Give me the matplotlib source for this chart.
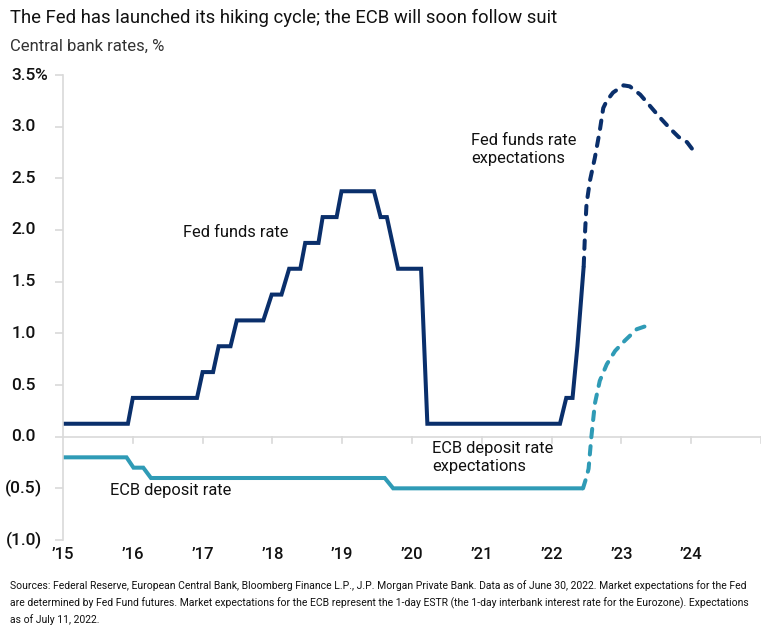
import matplotlib
matplotlib.use("Agg")
import matplotlib.pyplot as plt
from matplotlib import font_manager

# ~~~ data ~~~
years = [2015, 2016, 2017, 2018, 2019, 2020, 2021, 2022, 2023, 2024]
year_labels = ["\u201915", "\u201916", "\u201917", "\u201918", "\u201919",
               "\u201920", "\u201921", "\u201922", "\u201923", "\u201924"]

fed_dates = [2015.0, 2015.93, 2016.0, 2016.92, 2017.0, 2017.15, 2017.23, 2017.40,
             2017.49, 2017.87, 2017.99, 2018.13, 2018.24, 2018.40, 2018.47, 2018.66,
             2018.72, 2018.92, 2018.99, 2019.455, 2019.55, 2019.64, 2019.80, 2020.13,
             2020.22, 2022.12, 2022.21, 2022.30, 2022.37, 2022.46]
fed_vals = [0.125, 0.125, 0.375, 0.375, 0.625, 0.625, 0.875, 0.875,
            1.125, 1.125, 1.375, 1.375, 1.625, 1.625, 1.875, 1.875,
            2.125, 2.125, 2.375, 2.375, 2.125, 2.125, 1.625, 1.625,
            0.125, 0.125, 0.375, 0.375, 0.875, 1.65]

fed_exp_dates = [2022.46, 2022.48, 2022.50, 2022.55, 2022.62, 2022.69, 2022.74, 2022.79,
                 2022.88, 2023.03, 2023.12, 2023.27, 2023.41, 2023.55, 2023.70, 2023.82,
                 2023.94, 2024.03]
fed_exp_vals = [1.65, 1.99, 2.25, 2.48, 2.70, 2.96, 3.18, 3.25,
                3.33, 3.40, 3.39, 3.31, 3.20, 3.09, 2.98, 2.90,
                2.85, 2.77]

ecb_dates = [2015.0, 2015.91, 2016.01, 2016.15, 2016.26, 2019.61, 2019.73, 2022.45]
ecb_vals = [-0.2, -0.2, -0.3, -0.3, -0.4, -0.4, -0.5, -0.5]

ecb_exp_dates = [2022.45, 2022.50, 2022.53, 2022.57, 2022.62, 2022.69, 2022.79,
                 2022.91, 2023.05, 2023.22, 2023.35]
ecb_exp_vals = [-0.5, -0.39, -0.31, 0.0, 0.32, 0.54, 0.70, 0.83, 0.93, 1.04, 1.07]

y_ticks = [3.5, 3.0, 2.5, 2.0, 1.5, 1.0, 0.5, 0.0, -0.5, -1.0]
y_nums = ["3.5", "3.0", "2.5", "2.0", "1.5", "1.0", "0.5", "0.0", "(0.5", "(1.0"]
y_suffix = ["%", "", "", "", "", "", "", "", ")", ")"]

title = "The Fed has launched its hiking cycle; the ECB will soon follow suit"
subtitle = "Central bank rates, %"
footnote = ("Sources: Federal Reserve, European Central Bank, Bloomberg Finance L.P., J.P. Morgan Private Bank. "
            "Data as of June 30, 2022. Market expectations for the Fed\n"
            "are determined by Fed Fund futures. Market expectations for the ECB represent the 1-day ESTR "
            "(the 1-day interbank interest rate for the Eurozone). Expectations\n"
            "as of July 11, 2022.")

# ~~~ style ~~~
names = {f.name for f in font_manager.fontManager.ttflist}
narrow = "Liberation Sans Narrow" if "Liberation Sans Narrow" in names else "Roboto"
plt.rcParams['font.family'] = [narrow, 'DejaVu Sans']

NAVY = "#0a2f6b"
TEAL = "#2f9bb6"
GREY = "#d9d9d9"
TXT = "#111111"
DASH = (0, (2.1, 2.2))

W, H = 770, 629
fig = plt.figure(figsize=(W / 100, H / 100), dpi=100)
ax = fig.add_axes([63 / W, 1 - 540 / H, 698 / W, 465 / H])

ax.plot(fed_dates, fed_vals, color=NAVY, lw=2.9, solid_joinstyle='miter', solid_capstyle='butt')
ax.plot(fed_exp_dates, fed_exp_vals, color=NAVY, lw=2.9, linestyle=DASH, dash_capstyle='round')
ax.plot(ecb_dates, ecb_vals, color=TEAL, lw=2.9, solid_joinstyle='miter', solid_capstyle='butt')
ax.plot(ecb_exp_dates, ecb_exp_vals, color=TEAL, lw=2.9, linestyle=DASH, dash_capstyle='round')

ax.set_xlim(2015, 2025)
ax.set_ylim(-1.0, 3.5)

# zero line with year ticks hanging off it
ax.axhline(0, color=GREY, lw=1.2, zorder=0)
for yr in years[1:] + [2025]:
    ax.plot([yr, yr], [0, -0.06], color=GREY, lw=1.2, zorder=0)

for s in ["top", "right", "bottom"]:
    ax.spines[s].set_visible(False)
ax.spines["left"].set_color(GREY)
ax.spines["left"].set_linewidth(1.2)

ax.set_yticks(y_ticks)
ax.set_yticklabels([])
ax.tick_params(axis='y', length=6, width=1.2, color=GREY)
ax.set_xticks(years)
ax.set_xticklabels(year_labels, fontsize=12, color=TXT, fontweight='medium')
ax.tick_params(axis='x', length=0, pad=5)

# accounting-style y labels: numbers right-aligned, % and ) hang past them
xa = (36 - 63) / 698
tr = ax.get_yaxis_transform()
for v, num, suf in zip(y_ticks, y_nums, y_suffix):
    ax.text(xa, v, num, transform=tr, ha='right', va='center', fontsize=12.5, color=TXT,
            fontweight='medium')
    if suf:
        ax.text(xa - 1.5 / 698, v, suf, transform=tr, ha='left', va='center', fontsize=12.5,
                color=TXT, fontweight='medium')

# annotations
ax.text(2016.72, 1.98, "Fed funds rate", fontsize=11.8, color=TXT, va='center')
ax.text(2020.845, 2.78, "Fed funds rate\nexpectations", fontsize=11.8, color=TXT,
        va='center', linespacing=1.25)
ax.text(2015.673, -0.52, "ECB deposit rate", fontsize=11.8, color=TXT, va='center')
ax.text(2020.287, -0.20, "ECB deposit rate\nexpectations", fontsize=11.8, color=TXT,
        va='center', linespacing=1.25)

fig.text(10 / W, 1 - 18 / H, title, fontsize=13.3, color=TXT, va='center', ha='left')
fig.text(10 / W, 1 - 46 / H, subtitle, fontsize=12, color="#333333", va='center', ha='left')
fig.text(10 / W, 1 - 603 / H, footnote, fontsize=7.5, color=TXT, va='center', ha='left',
         linespacing=1.65)

fig.savefig("out.png", dpi=100)
